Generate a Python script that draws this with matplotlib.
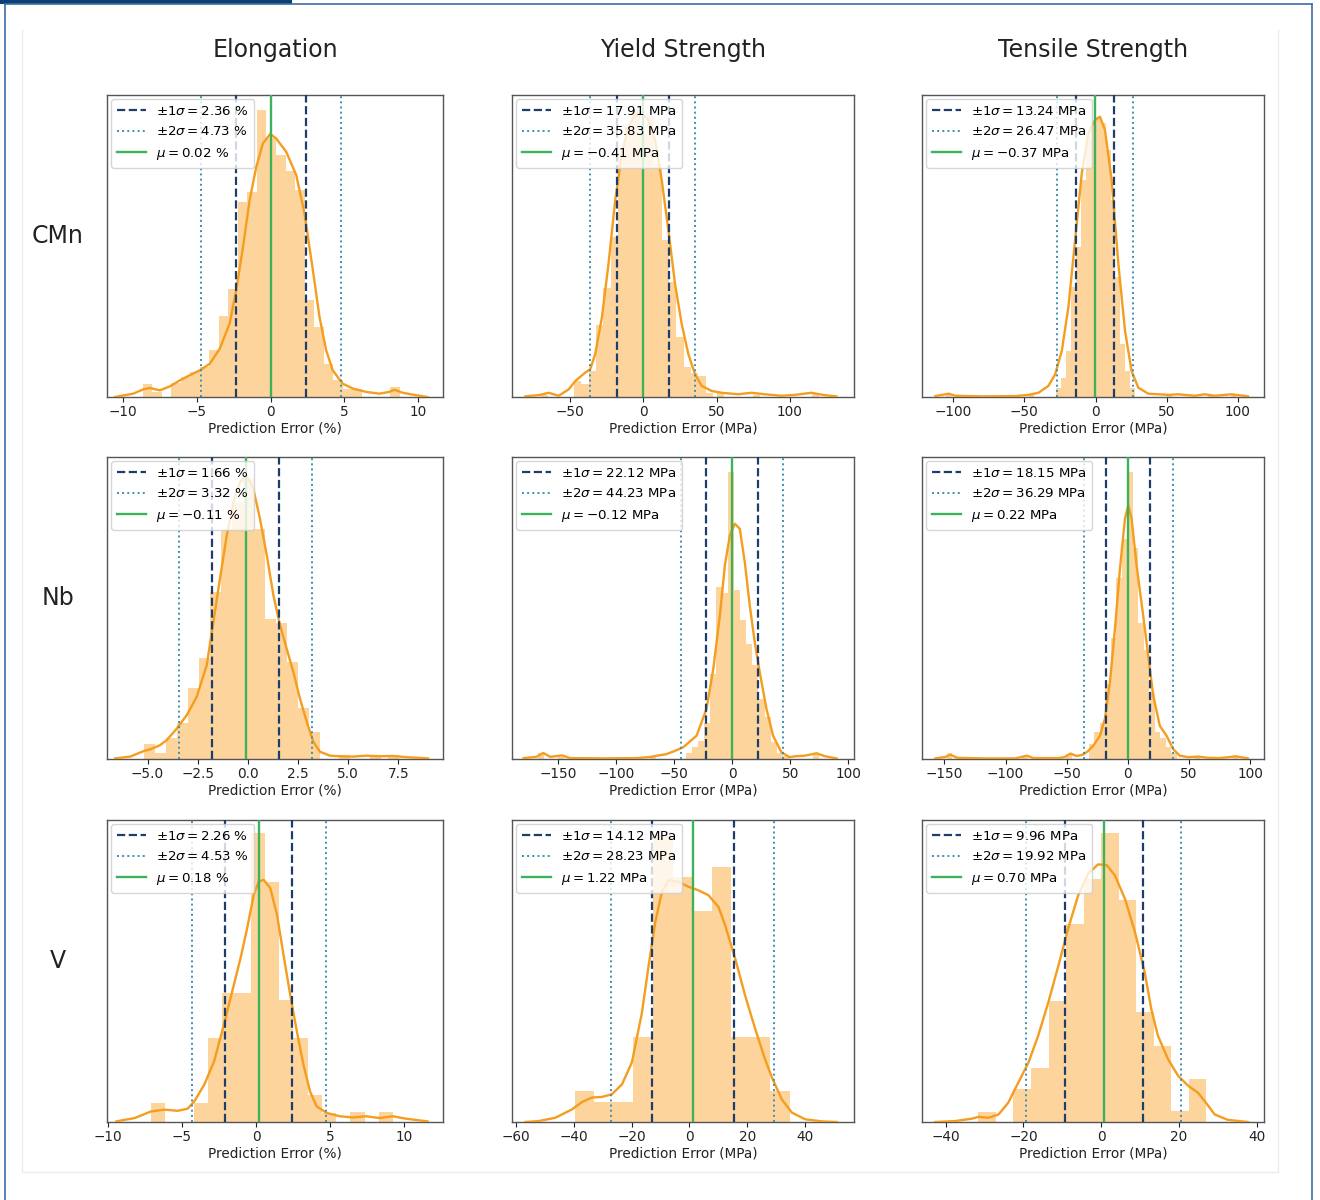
import numpy as np
import matplotlib
matplotlib.use("Agg")
import matplotlib.pyplot as plt
from matplotlib.lines import Line2D
from matplotlib.patches import Rectangle

OUT = "out.png"

COLS = ["Elongation", "Yield Strength", "Tensile Strength"]
ROWS = ["CMn", "Nb", "V"]
UNITS = ["%", "MPa", "MPa"]

# legend statistics (row-major: CMn, Nb, V x Elongation, Yield, Tensile)
MU = [0.02, -0.41, -0.37, -0.11, -0.12, 0.22, 0.18, 1.22, 0.70]
SIG1 = [2.36, 17.91, 13.24, 1.66, 22.12, 18.15, 2.26, 14.12, 9.96]
SIG2 = [4.73, 35.83, 26.47, 3.32, 44.23, 36.29, 4.53, 28.23, 19.92]

# histograms: first bin edge, bin width, bar heights (relative density), plus isolated tail bars
EL_CMN_BIN = (-8.69, 0.647)
EL_CMN_H = [0.042, 0.017, 0.0, 0.046, 0.066, 0.083, 0.10, 0.155, 0.267, 0.356, 0.646, 0.68, 0.95,
            0.856, 0.80, 0.75, 0.685, 0.32, 0.232, 0.11, 0.055, 0.028, 0.028, 0.0, 0.0, 0.0, 0.033]
EL_CMN_TAIL_X, EL_CMN_TAIL_H = [], []
YS_CMN_BIN = (-47.5, 5.0)
YS_CMN_H = [0.053, 0.042, 0.086, 0.24, 0.36, 0.53, 0.795, 0.895, 0.95, 0.87, 0.93, 0.77, 0.52,
            0.38, 0.2, 0.1, 0.08, 0.07, 0.014]
YS_CMN_TAIL_X, YS_CMN_TAIL_H = [-67.5, 52.5, 77.5, 117.5], [0.008, 0.012, 0.008, 0.01]
TS_CMN_BIN = (-28.0, 3.5)
TS_CMN_H = [0.03, 0.064, 0.153, 0.363, 0.496, 0.718, 0.862, 0.911, 0.928, 0.906, 0.817, 0.651,
            0.396, 0.175, 0.086, 0.031]
TS_CMN_TAIL_X, TS_CMN_TAIL_H = [-103, -45, 52, 80.5, 97], [0.01, 0.006, 0.006, 0.008, 0.008]

EL_NB_BIN = (-5.2, 0.55)
EL_NB_H = [0.049, 0.019, 0.068, 0.118, 0.234, 0.333, 0.553, 0.763, 0.851, 0.928, 0.763, 0.465,
           0.449, 0.322, 0.168, 0.09]
EL_NB_TAIL_X, EL_NB_TAIL_H = [4.8, 6.35, 7.25], [0.012, 0.012, 0.012]
YS_NB_BIN = (-39.8, 5.2)
YS_NB_H = [0.02, 0.04, 0.06, 0.12, 0.28, 0.57, 0.55, 0.95, 0.56, 0.46, 0.38, 0.31, 0.20, 0.14,
           0.055, 0.02, 0.01]
YS_NB_TAIL_X, YS_NB_TAIL_H = [-165, -148, -68, 72], [0.02, 0.008, 0.006, 0.02]
TS_NB_BIN = (-31.9, 4.5)
TS_NB_H = [0.05, 0.09, 0.12, 0.25, 0.40, 0.60, 0.73, 0.95, 0.70, 0.45, 0.36, 0.22, 0.09, 0.07,
           0.04, 0.02]
TS_NB_TAIL_X, TS_NB_TAIL_H = [-146, -84, -48, 57, 88], [0.02, 0.01, 0.015, 0.01, 0.01]

EL_V_BIN = (-7.08, 0.96)
EL_V_H = [0.063, 0.0, 0.0, 0.063, 0.278, 0.427, 0.427, 0.956, 0.796, 0.405, 0.278, 0.09, 0.03,
          0.0, 0.032, 0.0, 0.032]
EL_V_TAIL_X, EL_V_TAIL_H = [], []
YS_V_BIN = (-39.72, 6.78)
YS_V_H = [0.103, 0.066, 0.066, 0.28, 0.95, 0.81, 0.70, 0.845, 0.28, 0.28, 0.103]
YS_V_TAIL_X, YS_V_TAIL_H = [], []
TS_V_BIN = (-31.58, 4.51)
TS_V_H = [0.033, 0.0, 0.109, 0.18, 0.402, 0.657, 0.806, 0.956, 0.734, 0.363, 0.252, 0.037, 0.142]
TS_V_TAIL_X, TS_V_TAIL_H = [], []

# KDE curves
EL_CMN_KX = [-10.56, -9.32, -8.65, -8.19, -7.52, -6.84, -6.16, -5.49, -4.81, -4.13, -3.45, -2.78,
             -2.33, -1.87, -1.42, -0.97, -0.52, -0.02, 0.38, 1.06, 1.74, 2.30, 2.87, 3.32, 3.77,
             4.22, 4.90, 5.58, 6.48, 7.38, 8.06, 8.40, 8.96, 9.86, 10.65]
EL_CMN_KY = [0, 0.011, 0.025, 0.030, 0.022, 0.035, 0.055, 0.072, 0.088, 0.110, 0.160, 0.243,
             0.354, 0.497, 0.652, 0.762, 0.840, 0.871, 0.856, 0.812, 0.735, 0.608, 0.420, 0.265,
             0.155, 0.088, 0.044, 0.028, 0.017, 0.011, 0.017, 0.024, 0.014, 0.006, 0]
YS_CMN_KX = [-80.8, -71.7, -64.8, -58.0, -51.2, -46.6, -39.8, -36.4, -33.0, -28.4, -23.9, -19.3,
             -14.8, -10.2, -5.7, -1.1, 3.4, 8.0, 12.5, 17.1, 21.6, 26.2, 30.7, 35.3, 39.8, 46.6,
             53.5, 64.8, 73.9, 83.0, 94.4, 103.5, 114.9, 124.0, 132.0]
YS_CMN_KY = [0.002, 0.006, 0.014, 0.004, 0.025, 0.053, 0.081, 0.092, 0.142, 0.264, 0.441, 0.651,
             0.806, 0.895, 0.934, 0.939, 0.917, 0.850, 0.718, 0.551, 0.374, 0.241, 0.142, 0.075,
             0.037, 0.020, 0.014, 0.009, 0.014, 0.009, 0.004, 0.007, 0.014, 0.006, 0.002]
TS_CMN_KX = [-112.5, -107.8, -103.2, -98.5, -79.8, -56.4, -47.1, -40.1, -33.1, -28.4, -23.7, -19.1,
             -14.4, -9.7, -5.1, -0.4, 3.1, 6.6, 11.3, 16.0, 20.7, 25.3, 30.0, 37.0, 51.0, 58.1,
             69.7, 76.7, 83.8, 95.4, 107.1]
TS_CMN_KY = [0.003, 0.007, 0.011, 0.004, 0.002, 0.003, 0.007, 0.014, 0.037, 0.075, 0.153, 0.297,
             0.518, 0.740, 0.873, 0.917, 0.928, 0.884, 0.718, 0.441, 0.219, 0.086, 0.031, 0.011,
             0.007, 0.009, 0.004, 0.009, 0.004, 0.009, 0.002]
EL_NB_KX = [-6.61, -5.86, -5.20, -4.87, -4.37, -4.04, -3.54, -3.04, -2.55, -2.05, -1.72, -1.39,
            -1.05, -0.72, -0.39, -0.06, 0.27, 0.60, 0.94, 1.27, 1.60, 1.93, 2.26, 2.59, 2.93, 3.26,
            3.59, 4.09, 4.59, 5.25, 5.91, 6.57, 7.24, 7.90, 8.98]
EL_NB_KY = [0.002, 0.008, 0.026, 0.032, 0.046, 0.063, 0.101, 0.146, 0.206, 0.311, 0.454, 0.598,
            0.741, 0.851, 0.917, 0.939, 0.895, 0.796, 0.675, 0.542, 0.443, 0.366, 0.289, 0.201,
            0.123, 0.057, 0.024, 0.011, 0.009, 0.008, 0.011, 0.009, 0.010, 0.006, 0.002]
YS_NB_KX = [-180, -169, -163, -157, -147, -140, -111, -82, -70, -65, -57, -50, -42.3, -30.8, -22.2,
            -16.4, -10.7, -6.4, -2.1, 2.2, 6.5, 10.8, 15.1, 19.4, 23.7, 29.5, 35.2, 42.4, 49.6, 54,
            62.6, 72.7, 80, 90]
YS_NB_KY = [0.003, 0.007, 0.02, 0.007, 0.012, 0.003, 0.002, 0.003, 0.007, 0.011, 0.016, 0.026,
            0.039, 0.077, 0.166, 0.298, 0.475, 0.641, 0.740, 0.779, 0.762, 0.652, 0.508, 0.387,
            0.287, 0.166, 0.077, 0.022, 0.006, 0.009, 0.011, 0.019, 0.009, 0.002]
TS_NB_KX = [-157.4, -149.2, -145.1, -139.7, -119.3, -92.2, -86.7, -82.7, -77.3, -56.9, -52, -47,
            -42, -37, -33, -28.3, -22.9, -18.8, -14.7, -10.6, -6.5, -2.4, 0.3, 3.0, 7.1, 12.5,
            16.6, 20.7, 26.1, 31.6, 37.0, 42.4, 49.3, 57.3, 65.4, 75, 84.5, 88, 98.1]
TS_NB_KY = [0.002, 0.007, 0.014, 0.004, 0.002, 0.002, 0.007, 0.011, 0.003, 0.003, 0.006, 0.018,
            0.01, 0.014, 0.025, 0.044, 0.077, 0.133, 0.254, 0.431, 0.630, 0.796, 0.840, 0.796,
            0.641, 0.475, 0.343, 0.21, 0.11, 0.077, 0.033, 0.011, 0.006, 0.008, 0.004, 0.003,
            0.007, 0.009, 0.002]
EL_V_KX = [-9.42, -8.19, -7.08, -6.18, -5.29, -4.62, -4.17, -3.50, -2.83, -2.17, -1.50, -1.05,
           -0.60, -0.16, 0.18, 0.51, 0.96, 1.41, 1.85, 2.30, 2.75, 3.19, 3.64, 4.08, 4.75, 5.65,
           6.54, 7.43, 8.33, 9.22, 10.11, 11.56]
EL_V_KY = [0.002, 0.013, 0.035, 0.041, 0.037, 0.044, 0.068, 0.123, 0.201, 0.322, 0.454, 0.542,
           0.642, 0.752, 0.796, 0.802, 0.774, 0.686, 0.553, 0.421, 0.300, 0.190, 0.101, 0.052,
           0.030, 0.019, 0.015, 0.019, 0.013, 0.019, 0.011, 0.002]
YS_V_KX = [-56.8, -52.2, -46.4, -40.6, -37.2, -33.7, -30.3, -26.8, -23.3, -19.9, -16.4, -14.1,
           -11.8, -9.5, -7.2, -3.7, -0.3, 3.2, 6.6, 10.1, 12.4, 15.9, 19.3, 22.8, 26.2, 28.6, 32.0,
           35.5, 40.1, 45.9, 51.0]
YS_V_KY = [0, 0.003, 0.014, 0.042, 0.066, 0.081, 0.083, 0.092, 0.125, 0.197, 0.363, 0.518, 0.662,
           0.762, 0.801, 0.795, 0.779, 0.767, 0.751, 0.712, 0.651, 0.540, 0.419, 0.308, 0.208,
           0.147, 0.075, 0.031, 0.009, 0.002, 0]
TS_V_KX = [-42.7, -37.6, -33.3, -31.6, -29.0, -26.4, -23.9, -21.3, -18.7, -16.2, -13.6, -11.0,
           -8.5, -5.9, -3.3, -0.8, 1.4, 3.5, 6.1, 8.7, 11.2, 12.9, 14.6, 17.2, 19.8, 22.4, 24.9,
           26.6, 29.2, 32.6, 37.8]
TS_V_KY = [0, 0.003, 0.011, 0.017, 0.014, 0.025, 0.064, 0.131, 0.197, 0.286, 0.396, 0.518, 0.640,
           0.751, 0.823, 0.853, 0.851, 0.817, 0.740, 0.629, 0.496, 0.374, 0.286, 0.208, 0.153,
           0.120, 0.097, 0.070, 0.025, 0.007, 0]

XLIMS = [(-11.1, 11.7), (-89.9, 144.0), (-121.9, 118.3),
         (-7.02, 9.72), (-190.0, 105.0), (-168.4, 111.3),
         (-10.05, 12.6), (-61.4, 57.0), (-46.1, 41.9)]
XTICKS = [[-10, -5, 0, 5, 10], [-50, 0, 50, 100], [-100, -50, 0, 50, 100],
          [-5.0, -2.5, 0.0, 2.5, 5.0, 7.5], [-150, -100, -50, 0, 50, 100], [-150, -100, -50, 0, 50, 100],
          [-10, -5, 0, 5, 10], [-60, -40, -20, 0, 20, 40], [-40, -20, 0, 20, 40]]

PANELS = [
    (EL_CMN_BIN, EL_CMN_H, EL_CMN_TAIL_X, EL_CMN_TAIL_H, EL_CMN_KX, EL_CMN_KY),
    (YS_CMN_BIN, YS_CMN_H, YS_CMN_TAIL_X, YS_CMN_TAIL_H, YS_CMN_KX, YS_CMN_KY),
    (TS_CMN_BIN, TS_CMN_H, TS_CMN_TAIL_X, TS_CMN_TAIL_H, TS_CMN_KX, TS_CMN_KY),
    (EL_NB_BIN, EL_NB_H, EL_NB_TAIL_X, EL_NB_TAIL_H, EL_NB_KX, EL_NB_KY),
    (YS_NB_BIN, YS_NB_H, YS_NB_TAIL_X, YS_NB_TAIL_H, YS_NB_KX, YS_NB_KY),
    (TS_NB_BIN, TS_NB_H, TS_NB_TAIL_X, TS_NB_TAIL_H, TS_NB_KX, TS_NB_KY),
    (EL_V_BIN, EL_V_H, EL_V_TAIL_X, EL_V_TAIL_H, EL_V_KX, EL_V_KY),
    (YS_V_BIN, YS_V_H, YS_V_TAIL_X, YS_V_TAIL_H, YS_V_KX, YS_V_KY),
    (TS_V_BIN, TS_V_H, TS_V_TAIL_X, TS_V_TAIL_H, TS_V_KX, TS_V_KY),
]

BAR_C = "#fdd49c"
KDE_C = "#f49d1e"
SIG1_C = "#1d3e6c"
SIG2_C = "#3f8fb0"
MU_C = "#3cb35a"

W, H = 1320, 1200
fig = plt.figure(figsize=(W / 100, H / 100), dpi=100)

# page decoration: navy tab, thin blue frame, faint inner image border
fig.add_artist(Rectangle((0, 1 - 4 / H), 292 / W, 4 / H, transform=fig.transFigure,
                         color="#0c3f72", lw=0))
for xs, ys in [([5, 5], [4, H]), ([5, 1312], [4, 4]), ([1312, 1312], [4, H])]:
    fig.add_artist(Line2D([x / W for x in xs], [1 - y / H for y in ys], color="#3b6ea5", lw=1.2))
for xs, ys in [([22, 22], [30, 1172]), ([1278, 1278], [30, 1172]), ([22, 1278], [1172, 1172])]:
    fig.add_artist(Line2D([x / W for x in xs], [1 - y / H for y in ys], color="#ececec", lw=1.0))

COL_X = [(107, 443), (512, 854), (922, 1264)]
ROW_Y = [(95, 397), (457, 759), (820, 1122)]

for i, (binspec, heights, tx, th, kx, ky) in enumerate(PANELS):
    r, c = divmod(i, 3)
    x0, x1 = COL_X[c]
    y0, y1 = ROW_Y[r]
    ax = fig.add_axes([x0 / W, 1 - y1 / H, (x1 - x0) / W, (y1 - y0) / H])

    start, width = binspec
    centers = start + width * (np.arange(len(heights)) + 0.5)
    ax.bar(centers, heights, width=width, color=BAR_C, lw=0, zorder=1)
    if tx:
        ax.bar(tx, th, width=width, color=BAR_C, lw=0, zorder=1)
    ax.plot(kx, ky, color=KDE_C, lw=1.7, zorder=3)

    mu, s1, s2 = MU[i], SIG1[i], SIG2[i]
    unit = UNITS[c]
    for k, side in enumerate([-1, 1]):
        ax.axvline(mu + side * s1, color=SIG1_C, ls="--", lw=1.6, zorder=4,
                   label=f"$\\pm1\\sigma={s1:.2f}$ {unit}" if k == 0 else None)
    for k, side in enumerate([-1, 1]):
        ax.axvline(mu + side * s2, color=SIG2_C, ls=":", lw=1.4, zorder=4,
                   label=f"$\\pm2\\sigma={s2:.2f}$ {unit}" if k == 0 else None)
    ax.axvline(mu, color=MU_C, lw=1.7, zorder=4, label=f"$\\mu={mu:.2f}$ {unit}")

    ax.set_xlim(*XLIMS[i])
    ax.set_ylim(0, 1)
    ax.set_xticks(XTICKS[i])
    ax.set_yticks([])
    ax.tick_params(axis="x", labelsize=9.8, length=3.5, width=0.8, pad=2, colors="#222")
    ax.set_xlabel(f"Prediction Error ({unit})", fontsize=9.8, labelpad=2, color="#222")
    for sp in ax.spines.values():
        sp.set_color("#555")
        sp.set_linewidth(1.0)
    ax.legend(loc="upper left", fontsize=9.6, handlelength=2.2, borderaxespad=0.3,
              labelspacing=0.55, borderpad=0.45, handletextpad=0.7, framealpha=0.8)

for c, name in enumerate(COLS):
    x0, x1 = COL_X[c]
    fig.text((x0 + x1) / 2 / W, 1 - 50 / H, name, fontsize=17, ha="center", va="center", color="#222")
for r, name in enumerate(ROWS):
    y0, y1 = ROW_Y[r]
    fig.text(58 / W, 1 - (y0 + y1) / 2 / H + 10 / H, name, fontsize=17, ha="center", va="center",
             color="#222")

fig.savefig(OUT, dpi=100)
print(f"wrote {OUT}")
